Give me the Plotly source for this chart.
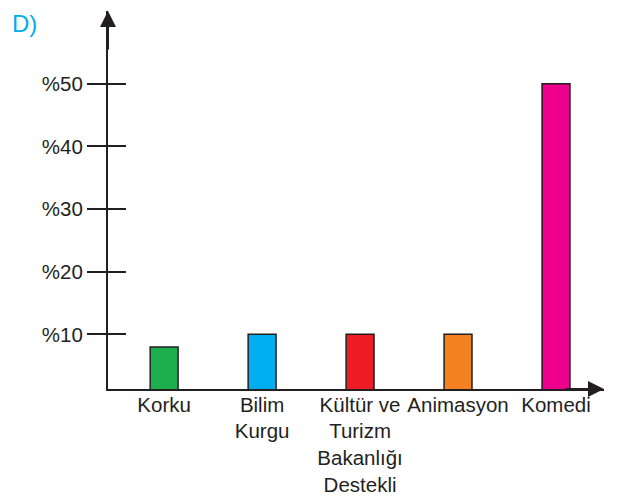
import plotly.graph_objects as go

categories = ["Korku", "Bilim Kurgu", "Kültür ve Turizm Bakanlığı Destekli", "Animasyon", "Komedi"]
category_labels = ["Korku", "Bilim<br>Kurgu", "Kültür ve<br>Turizm<br>Bakanlığı<br>Destekli", "Animasyon", "Komedi"]
values = [8, 10, 10, 10, 50]
bar_colors = ["#1dae4e", "#00aeef", "#ed1c24", "#f58220", "#ec008c"]
y_tick_vals = [10, 20, 30, 40, 50]
y_tick_labels = ["%10", "%20", "%30", "%40", "%50"]

ink = "#231f20"
text_color = "#231f20"
font_family = "Liberation Sans, Arial, sans-serif"
y_range = [1.28, 61.6]

fig = go.Figure()
fig.add_trace(go.Bar(
    x=categories,
    y=values,
    width=0.285,
    marker=dict(color=bar_colors, line=dict(color=ink, width=1.5)),
    showlegend=False,
    hoverinfo="skip",
))
# empty helper trace so the overlaying axis (inner half of the crossing ticks) is drawn
fig.add_trace(go.Scatter(x=[], y=[], yaxis="y2", showlegend=False, hoverinfo="skip"))

fig.update_layout(
    width=625,
    height=499,
    margin=dict(l=100, r=29, t=3, b=118),
    paper_bgcolor="white",
    plot_bgcolor="white",
    font=dict(family=font_family, size=20.5, color=text_color),
    xaxis=dict(
        type="category",
        range=[-0.573, 4.49],
        tickvals=categories,
        ticktext=category_labels,
        showgrid=False,
        zeroline=False,
        showline=True,
        linecolor=ink,
        linewidth=2,
        ticks="",
        ticklabelstandoff=-4,
        tickfont=dict(size=20.5, color=text_color),
    ),
    yaxis=dict(
        range=y_range,
        tickvals=y_tick_vals,
        ticktext=y_tick_labels,
        showgrid=False,
        zeroline=False,
        showline=True,
        linecolor=ink,
        linewidth=2,
        ticks="outside",
        ticklen=19,
        tickwidth=2,
        tickcolor=ink,
        tickfont=dict(size=20.5, color=text_color),
    ),
    yaxis2=dict(
        range=y_range,
        overlaying="y",
        side="left",
        anchor="x",
        tickvals=y_tick_vals,
        showticklabels=False,
        showgrid=False,
        zeroline=False,
        showline=False,
        ticks="inside",
        ticklen=18,
        tickwidth=2,
        tickcolor=ink,
    ),
    annotations=[
        dict(xref="paper", yref="paper", x=0, y=1, ax=0, ay=40,
             showarrow=True, arrowhead=2, arrowsize=1.6, arrowwidth=2,
             arrowcolor=ink, text="", standoff=0),
        dict(xref="paper", yref="paper", x=1, y=0, ax=-40, ay=0,
             showarrow=True, arrowhead=2, arrowsize=1.6, arrowwidth=2,
             arrowcolor=ink, text="", standoff=0),
        dict(xref="paper", yref="paper", x=-0.1976, y=1.0075,
             xanchor="left", yanchor="top", showarrow=False,
             text="D)", font=dict(family=font_family, size=24, color="#00aeef")),
    ],
)

fig.write_html("out.html")
